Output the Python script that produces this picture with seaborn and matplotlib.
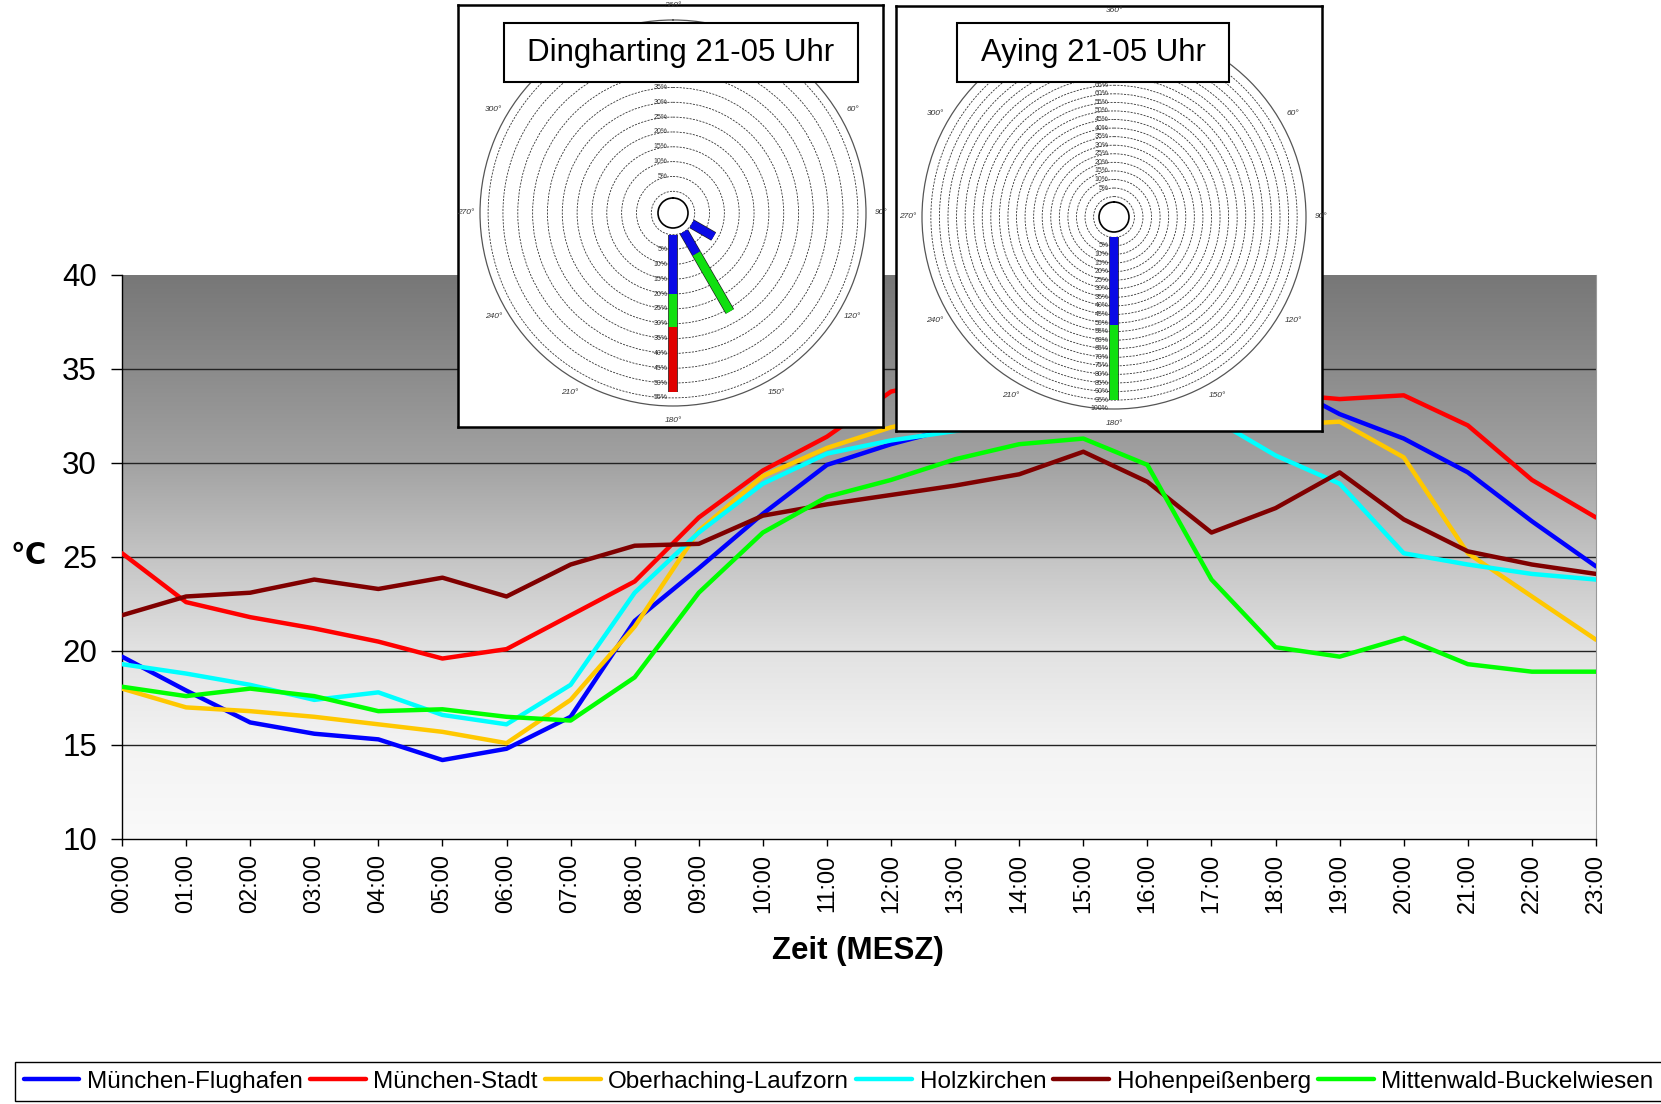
import numpy as np
import pandas as pd
import matplotlib
matplotlib.use("Agg")
import matplotlib.pyplot as plt
import matplotlib.patheffects as pe
from matplotlib.lines import Line2D
from matplotlib.patches import Rectangle
import seaborn as sns

# --- Daten: Temperaturverlauf (Zeit MESZ) ---
stunden = ["00:00", "01:00", "02:00", "03:00", "04:00", "05:00", "06:00", "07:00",
           "08:00", "09:00", "10:00", "11:00", "12:00", "13:00", "14:00", "15:00",
           "16:00", "17:00", "18:00", "19:00", "20:00", "21:00", "22:00", "23:00"]
stationen = ["München-Flughafen", "München-Stadt", "Oberhaching-Laufzorn",
             "Holzkirchen", "Hohenpeißenberg", "Mittenwald-Buckelwiesen"]
farben = ["#0000ff", "#ff0000", "#ffc800", "#00ffff", "#800000", "#00ff00"]

muenchen_flughafen = [19.7, 17.9, 16.2, 15.6, 15.3, 14.2, 14.8, 16.5, 21.6, 24.4, 27.3, 29.9,
                      31.0, 31.9, 32.8, 33.5, 34.0, 34.4, 34.4, 32.6, 31.3, 29.5, 26.9, 24.5]
muenchen_stadt = [25.2, 22.6, 21.8, 21.2, 20.5, 19.6, 20.1, 21.9, 23.7, 27.1, 29.6, 31.4,
                  33.8, 34.5, 35.0, 35.3, 35.0, 34.4, 33.7, 33.4, 33.6, 32.0, 29.1, 27.1]
oberhaching = [18.0, 17.0, 16.8, 16.5, 16.1, 15.7, 15.1, 17.4, 21.3, 26.4, 29.3, 30.8,
               31.9, 32.6, 33.2, 33.5, 33.2, 32.6, 32.0, 32.2, 30.3, 25.2, 22.9, 20.6]
holzkirchen = [19.3, 18.8, 18.2, 17.4, 17.8, 16.6, 16.1, 18.2, 23.1, 26.3, 28.9, 30.5,
               31.2, 31.7, 32.3, 32.8, 32.8, 32.4, 30.4, 28.9, 25.2, 24.6, 24.1, 23.8]
hohenpeissenberg = [21.9, 22.9, 23.1, 23.8, 23.3, 23.9, 22.9, 24.6, 25.6, 25.7, 27.2, 27.8,
                    28.3, 28.8, 29.4, 30.6, 29.0, 26.3, 27.6, 29.5, 27.0, 25.3, 24.6, 24.1]
mittenwald = [18.1, 17.6, 18.0, 17.6, 16.8, 16.9, 16.5, 16.3, 18.6, 23.1, 26.3, 28.2,
              29.1, 30.2, 31.0, 31.3, 29.9, 23.8, 20.2, 19.7, 20.7, 19.3, 18.9, 18.9]

y_ticks = [10, 15, 20, 25, 30, 35, 40]

# --- Windrosen 21-05 Uhr (Richtung in Grad, Anteile in %) ---
ding_richtung = [180, 150, 120]
ding_blau = [20, 8.5, 8.5]
ding_gruen = [11, 22.5, 0]
ding_rot = [22, 0, 0]
aying_richtung = [180]
aying_blau = [51]
aying_gruen = [44]
aying_rot = [0]
rose_farben = ["#0a0ae6", "#10e010", "#e00000"]
grad_labels = [0, 60, 90, 120, 150, 180, 210, 240, 270, 300]

sns.set_style("white")
plt.rcParams["font.family"] = ["Liberation Sans", "DejaVu Sans"]
plt.rcParams["text.color"] = "black"
plt.rcParams["xtick.color"] = "black"
plt.rcParams["ytick.color"] = "black"

W, H = 1661, 1104
fig = plt.figure(figsize=(W / 100, H / 100), dpi=100)

# --- Hauptdiagramm ---
ax = fig.add_axes([122 / W, 1 - 839 / H, 1474 / W, 564 / H])

# grauer Verlauf im Hintergrund
yy = np.linspace(10, 40, 300)
grau = np.interp(yy, [10, 15, 20, 25, 30, 35, 40], [250, 243, 226, 196, 162, 139, 119]) / 255
verlauf = np.repeat(grau[:, None, None], 3, axis=2)
ax.imshow(verlauf, extent=[0, 23, 10, 40], origin="lower", aspect="auto", zorder=0)

for y in y_ticks[1:-1]:
    ax.axhline(y, color="#222222", lw=1, zorder=1)

df = pd.DataFrame({
    "Zeit": np.tile(np.arange(len(stunden)), len(stationen)),
    "Temp": np.concatenate([muenchen_flughafen, muenchen_stadt, oberhaching,
                            holzkirchen, hohenpeissenberg, mittenwald]),
    "Station": np.repeat(stationen, len(stunden)),
})
sns.lineplot(data=df, x="Zeit", y="Temp", hue="Station", hue_order=stationen,
             palette=farben, lw=3.2, legend=False, ax=ax, zorder=3)

ax.set_xlim(0, 23)
ax.set_ylim(10, 40)
ax.set_xticks(range(len(stunden)))
ax.set_xticklabels(stunden, rotation=90)
ax.set_yticks(y_ticks)
ax.set_xlabel("")
ax.set_ylabel("")
ax.tick_params(axis="y", left=True, length=8, width=1, pad=10, labelsize=22.5)
ax.tick_params(axis="x", bottom=True, length=5, width=1, pad=6, labelsize=17)
ax.spines["top"].set_visible(False)
ax.spines["right"].set_color("#999999")
for s in ["left", "bottom"]:
    ax.spines[s].set_color("black")
    ax.spines[s].set_linewidth(1)

fig.text(858 / W, 1 - 951 / H, "Zeit (MESZ)", ha="center", va="center",
         fontsize=22.5, fontweight="bold")
fig.text(28 / W, 1 - 556 / H, "℃", ha="center", va="center",
         fontsize=21, fontweight="bold")

handles = [Line2D([0], [0], color=c, lw=3.2) for c in farben]
leg = fig.legend(handles, stationen, loc="upper left", bbox_to_anchor=(15 / W, 1 - 1062 / H),
                 ncol=6, fontsize=17.5, frameon=True, fancybox=False, edgecolor="black",
                 framealpha=1, handlelength=2.3, handletextpad=0.3, columnspacing=0.3,
                 borderpad=0.35, borderaxespad=0)
leg.get_frame().set_linewidth(1)


# --- Windrosen-Einschübe ---
def windrose(rahmen, kreis, prozent_px, null_px, richtung, segmente, ringe_max,
             oben_max, titel, titelbox):
    fr = fig.add_axes([rahmen[0] / W, 1 - rahmen[3] / H,
                       (rahmen[2] - rahmen[0]) / W, (rahmen[3] - rahmen[1]) / H])
    fr.set_facecolor("white")
    fr.set_xticks([])
    fr.set_yticks([])
    for s in fr.spines.values():
        s.set_visible(True)
        s.set_color("black")
        s.set_linewidth(1.8)

    cx, cy, rad, innen = kreis
    axp = fig.add_axes([(cx - rad) / W, 1 - (cy + rad) / H, 2 * rad / W, 2 * rad / H],
                       projection="polar")
    axp.set_facecolor("white")
    axp.set_theta_zero_location("N")
    axp.set_theta_direction(-1)
    rmin = (innen - null_px) / prozent_px
    rmax = (rad - null_px) / prozent_px
    axp.set_rorigin(-null_px / prozent_px)
    axp.set_ylim(rmin, rmax)
    axp.set_yticks(np.arange(0, ringe_max + 1, 5))
    axp.set_yticklabels([])
    axp.yaxis.grid(True, color="#333333", lw=0.6, ls=(0, (2.5, 1.5)))
    axp.set_xticks(np.deg2rad(grad_labels))
    axp.set_xticklabels([f"{g if g else 360}°" for g in grad_labels], fontsize=6,
                        style="italic", color="#333333")
    axp.xaxis.grid(False)
    axp.tick_params(axis="x", pad=0)
    axp.spines["polar"].set_color("#555555")
    axp.spines["polar"].set_linewidth(0.9)
    axp.spines["inner"].set_color("black")
    axp.spines["inner"].set_linewidth(1.2)

    for r in range(5, int(round(rmax)) + 1, 5):
        axp.annotate(f"{r}%", (np.pi, r), xytext=(-4, 0), textcoords="offset points",
                     ha="right", va="center", fontsize=5, color="#333333")
        if r <= oben_max:
            axp.annotate(f"{r}%", (0, r), xytext=(-4, 0), textcoords="offset points",
                         ha="right", va="center", fontsize=5, color="#333333")

    theta = np.deg2rad(richtung)
    unten = np.zeros(len(richtung))
    for werte, farbe in zip(segmente, rose_farben):
        for th, u, w in zip(theta, unten, werte):
            if w > 0:
                axp.plot([th, th], [max(u, rmin), u + w], color=farbe, lw=6,
                         solid_capstyle="butt",
                         path_effects=[pe.Stroke(linewidth=7, foreground="#202020"), pe.Normal()])
        unten = unten + np.array(werte)

    x0, y0, x1, y1 = titelbox
    fig.add_artist(Rectangle((x0 / W, 1 - y1 / H), (x1 - x0) / W, (y1 - y0) / H,
                             transform=fig.transFigure, facecolor="white",
                             edgecolor="black", lw=1.5, zorder=5))
    fig.text((x0 + x1) / 2 / W, 1 - (y0 + y1) / 2 / H, titel, ha="center", va="center",
             fontsize=22.5, zorder=6)


windrose((458, 5, 883, 427), (673, 213, 193, 15), 2.967, 21.7, ding_richtung,
         [ding_blau, ding_gruen, ding_rot], 55, 35, "Dingharting 21-05 Uhr", (504, 23, 858, 82))
windrose((896, 6, 1322, 431), (1114, 217, 192, 15), 1.713, 20.4, aying_richtung,
         [aying_blau, aying_gruen, aying_rot], 95, 65, "Aying 21-05 Uhr", (957, 23, 1229, 82))

fig.savefig("out.png", dpi=100)
